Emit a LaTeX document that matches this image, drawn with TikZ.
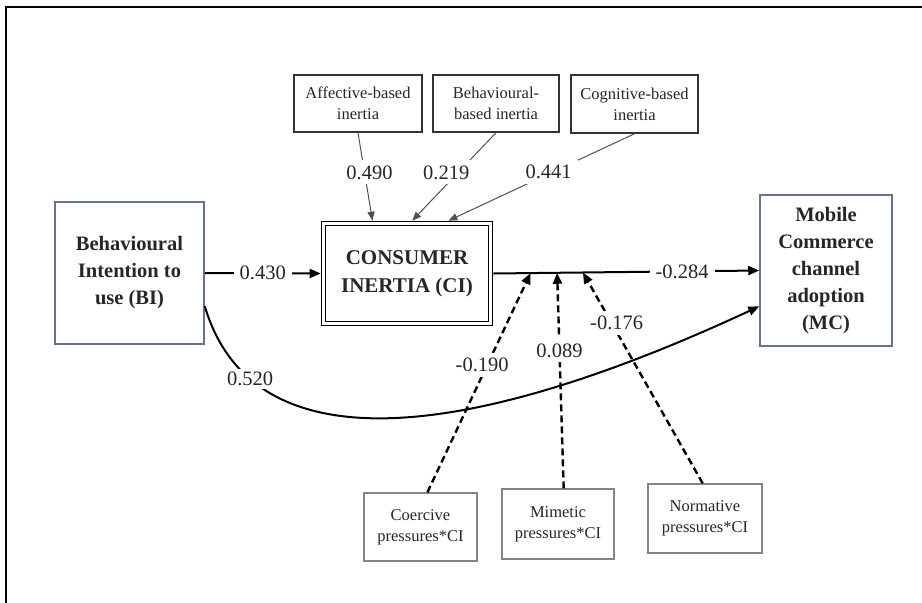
\documentclass[tikz,border=0pt]{standalone}
\usepackage{fontspec}
\setmainfont{Liberation Serif}
\usetikzlibrary{arrows.meta,calc}
\definecolor{txt}{HTML}{262626}
\definecolor{bluebox}{HTML}{64738F}
\definecolor{topbox}{HTML}{333333}
\definecolor{botbox}{HTML}{858585}
\definecolor{thinln}{HTML}{505050}
\tikzset{
  mainbox/.style={draw=bluebox, line width=1.5pt, align=center, text=txt,
    font=\fontsize{20.5}{27}\selectfont\bfseries, inner sep=0pt},
  cibox/.style={draw=black, double=white, double distance=2.5pt, line width=1.3pt,
    align=center, text=txt, font=\fontsize{21}{28}\selectfont\bfseries, inner sep=0pt, outer sep=2.8pt},
  smallbox/.style={draw=topbox, line width=1.5pt, align=center, text=txt,
    font=\fontsize{16.5}{21}\selectfont, inner sep=0pt},
  lowbox/.style={draw=botbox, line width=1.3pt, align=center, text=txt,
    font=\fontsize{16.5}{21}\selectfont, inner sep=0pt},
  lab/.style={fill=white, text=txt, font=\fontsize{20.5}{22}\selectfont, inner xsep=6pt, inner ysep=5pt},
  mainarrow/.style={line width=2pt, draw=black, -{Triangle[length=11pt,width=9pt]}},
  thinarrow/.style={line width=1pt, draw=thinln, -{Triangle[length=9pt,width=7pt]}},
  dasharrow/.style={line width=2.4pt, draw=black, dash pattern=on 7pt off 4pt, -{Triangle[length=11pt,width=9pt]}}
}
\begin{document}
\begin{tikzpicture}[x=1pt,y=-1pt]
\useasboundingbox (0,0) rectangle (922,603);
% frame (top and left edges)
\draw[line width=2pt, black] (922,7) -- (6,7) -- (6,603);

% nodes
\node[mainbox, minimum width=149pt, minimum height=142pt] (BI) at (129.5,273) {Behavioural\\Intention to\\use (BI)};
\node[cibox, minimum width=167pt, minimum height=100pt] (CI) at (407,273.5) {CONSUMER\\INERTIA (CI)};
\node[mainbox, minimum width=132pt, minimum height=151pt] (MC) at (826,270.5) {Mobile\\Commerce\\channel\\adoption\\(MC)};

\node[smallbox, minimum width=128pt, minimum height=57pt] (AFF) at (358,103.5) {Affective-based\\inertia};
\node[smallbox, minimum width=126pt, minimum height=57pt] (BEH) at (496,103.5) {Behavioural-\\based inertia};
\node[smallbox, minimum width=127pt, minimum height=58pt] (COG) at (634.5,104) {Cognitive-based\\inertia};

\node[lowbox, minimum width=113pt, minimum height=68pt] (COE) at (420.5,527) {Coercive\\pressures*CI};
\node[lowbox, minimum width=112pt, minimum height=70pt] (MIM) at (558,524) {Mimetic\\pressures*CI};
\node[lowbox, minimum width=114pt, minimum height=69pt] (NOR) at (705,518.5) {Normative\\pressures*CI};

% junction points on the CI -> MC path
\coordinate (J1) at ($(CI.east)!0.14!(MC.west)$);
\coordinate (J2) at ($(CI.east)!0.24!(MC.west)$);
\coordinate (J3) at ($(CI.east)!0.337!(MC.west)$);

% main arrows
\draw[mainarrow] (BI.east) -- node[lab, pos=0.5] {0.430} (CI.west);
\draw[mainarrow] (CI.east) -- node[lab, pos=0.71] {-0.284} (MC.west);

% curved arrow BI -> MC
\draw[mainarrow] ($(BI.north east)!0.73!(BI.south east)$) .. controls (250,460) and (450,450) .. node[lab, pos=0.2, inner ysep=3pt] {0.520} ($(MC.north west)!0.735!(MC.south west)$);

% inertia dimensions
\draw[thinarrow] (AFF.south) -- node[lab, pos=0.45, xshift=5pt] {0.490} ($(CI.north west)!0.30!(CI.north east)$);
\draw[thinarrow] (BEH.south) -- node[lab, pos=0.45, xshift=-12pt] {0.219} ($(CI.north west)!0.53!(CI.north east)$);
\draw[thinarrow] (COG.south) -- node[lab, pos=0.44, xshift=-4pt] {0.441} ($(CI.north west)!0.74!(CI.north east)$);

% moderating dashed arrows
\draw[dasharrow] ($(COE.north west)!0.56!(COE.north east)$) -- node[lab, pos=0.58, xshift=-5pt] {-0.190} (J1);
\draw[dasharrow] ($(MIM.north west)!0.55!(MIM.north east)$) -- node[lab, pos=0.64] {0.089} (J2);
\draw[dasharrow] ($(NOR.north west)!0.48!(NOR.north east)$) -- node[lab, pos=0.76, xshift=5pt] {-0.176} (J3);
\end{tikzpicture}
\end{document}
